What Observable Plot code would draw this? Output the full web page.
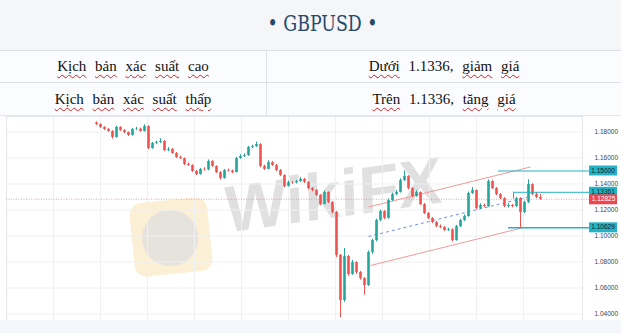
<!DOCTYPE html>
<html><head><meta charset="utf-8">
<script src="https://cdn.jsdelivr.net/npm/d3@7"></script>
<script src="https://cdn.jsdelivr.net/npm/@observablehq/plot@0.6"></script>
<style>
body{margin:0;width:621px;height:333px;overflow:hidden;background:#fff;}
#title{height:50px;background:#f5f6f8;display:flex;align-items:center;justify-content:center;color:#27496d;font-size:23px;font-family:"DejaVu Serif Condensed","DejaVu Serif","Liberation Serif",serif;padding-left:24px;box-sizing:border-box;}
#title span{display:inline-block;transform:scaleX(.84);margin-top:-4px;}
table{border-collapse:collapse;width:621px;background:#fbfcfe;}
td{padding:0;text-align:center;font-size:15px;color:#111;word-spacing:5px;border-top:1px solid #dde1e6;font-family:"Liberation Serif","Times New Roman",serif;}
tr.r1 td{height:31px;}
tr.r2 td{height:32px;}
td.c1{width:266px;border-right:1px solid #dde1e6;}
.w{text-decoration:underline wavy #d42020;text-decoration-thickness:1px;text-underline-offset:3px;}
#chart{position:relative;height:217px;border-top:1px solid #e3e6ea;}
#plot{position:absolute;left:0;top:0;}
#band{position:absolute;left:0;top:204px;width:621px;height:13px;background:#f3f6fa;}
#wm{position:absolute;left:226px;top:56px;font-family:"Liberation Sans",sans-serif;font-weight:bold;font-size:66px;color:rgba(0,0,0,0.12);transform:rotate(-8deg) skewX(-6deg);transform-origin:left bottom;white-space:nowrap;}
#logo{position:absolute;left:132px;top:84px;width:78px;height:74px;border-radius:12px;background:#fbefd6;transform:rotate(-6deg);}
#logo div{position:absolute;left:10px;top:10px;width:56px;height:56px;border-radius:50%;background:#e6e3dc;}
</style></head>
<body>
<div id="title"><span>• GBPUSD •</span></div>
<table>
<tr class="r1"><td class="c1"><span class="w">Kịch</span> <span class="w">bản</span> <span class="w">xác</span> <span class="w">suất</span> <span class="w">cao</span></td><td><span class="w">Dưới</span> 1.1336, <span class="w">giảm</span> <span class="w">giá</span></td></tr>
<tr class="r2"><td class="c1"><span class="w">Kịch</span> <span class="w">bản</span> <span class="w">xác</span> <span class="w">suất</span> <span class="w">thấp</span></td><td><span class="w">Trên</span> 1.1336, <span class="w">tăng</span> <span class="w">giá</span></td></tr>
</table>
<div id="chart">
  <div id="logo"><div></div></div>
  <div id="wm">WikiFX</div>
  <div id="plot"></div>
  <div id="band"></div>
</div>
<script>
// ---- data ----
const firstOpen = 1.1870;
const closes = [1.1858,1.1835,1.1819,1.1804,1.1758,1.1835,1.1812,1.1796,1.1773,1.1819,
1.1822,1.1804,1.1842,1.1673,1.1712,1.1719,1.1727,1.1658,1.1665,1.1635,
1.1604,1.1596,1.1550,1.1542,1.1496,1.1473,1.1512,1.1508,1.1573,1.1535,
1.1488,1.1442,1.1504,1.1500,1.1488,1.1596,1.1612,1.1619,1.1681,1.1688,
1.1704,1.1535,1.1512,1.1565,1.1542,1.1504,1.1465,1.1381,1.1412,1.1408,
1.1419,1.1435,1.1412,1.1365,1.1350,1.1312,1.1242,1.1335,1.1258,1.1181,
1.0850,1.0504,1.0842,1.0704,1.0796,1.0719,1.0673,1.0619,1.0873,1.0965,
1.1119,1.1188,1.1135,1.1273,1.1319,1.1335,1.1427,1.1458,1.1365,1.1304,
1.1335,1.1242,1.1173,1.1135,1.1104,1.1073,1.1065,1.1042,1.1048,1.0965,
1.1073,1.1119,1.1150,1.1327,1.1350,1.1212,1.1235,1.1227,1.1419,1.1365,
1.1319,1.1288,1.1227,1.1235,1.1227,1.1288,1.1181,1.1258,1.1396,1.1319,
1.1296,1.12825];
const highs = [1.1878,1.1862,1.1840,1.1826,1.1810,1.1845,1.1840,1.1818,1.1800,1.1828,
1.1835,1.1830,1.1855,1.1848,1.1720,1.1730,1.1748,1.1735,1.1680,1.1672,
1.1642,1.1615,1.1600,1.1562,1.1548,1.1505,1.1520,1.1525,1.1585,1.1580,
1.1540,1.1495,1.1512,1.1515,1.1508,1.1605,1.1625,1.1632,1.1690,1.1698,
1.1722,1.1710,1.1545,1.1578,1.1572,1.1550,1.1512,1.1470,1.1422,1.1420,
1.1428,1.1448,1.1442,1.1418,1.1372,1.1358,1.1318,1.1345,1.1340,1.1265,
1.1188,1.0858,1.0904,1.0850,1.0812,1.0802,1.0728,1.0680,1.0885,1.0975,
1.1130,1.1200,1.1195,1.1285,1.1330,1.1350,1.1440,1.1500,1.1465,1.1372,
1.1348,1.1340,1.1250,1.1180,1.1142,1.1112,1.1085,1.1072,1.1060,1.1055,
1.1082,1.1128,1.1162,1.1338,1.1372,1.1355,1.1248,1.1245,1.1432,1.1425,
1.1372,1.1325,1.1295,1.1248,1.1242,1.1298,1.1295,1.1268,1.1432,1.1402,
1.1335,1.1318];
const lows = [1.1850,1.1828,1.1812,1.1798,1.1745,1.1752,1.1805,1.1788,1.1765,1.1768,
1.1810,1.1798,1.1800,1.1665,1.1668,1.1705,1.1712,1.1650,1.1648,1.1628,
1.1596,1.1588,1.1542,1.1535,1.1488,1.1465,1.1468,1.1500,1.1502,1.1528,
1.1480,1.1432,1.1438,1.1492,1.1480,1.1485,1.1590,1.1605,1.1612,1.1672,
1.1680,1.1525,1.1505,1.1508,1.1535,1.1496,1.1458,1.1372,1.1376,1.1398,
1.1400,1.1412,1.1405,1.1356,1.1340,1.1304,1.1232,1.1238,1.1250,1.1170,
1.0835,1.0373,1.0490,1.0690,1.0698,1.0705,1.0660,1.0545,1.0612,1.0860,
1.0955,1.1110,1.1125,1.1130,1.1265,1.1310,1.1330,1.1420,1.1355,1.1295,
1.1298,1.1235,1.1165,1.1126,1.1096,1.1065,1.1056,1.1035,1.1035,1.0955,
1.0960,1.1065,1.1112,1.1145,1.1320,1.1202,1.1205,1.1218,1.1220,1.1358,
1.1310,1.1280,1.1218,1.1215,1.1218,1.1220,1.1063,1.1172,1.1250,1.1310,
1.1288,1.1275];
const yTicks = [1.04,1.06,1.08,1.10,1.12,1.14,1.16,1.18];
const timeGrid = [-10.75,1,12.75,24.5,36.25,48,59.75,71.5,83.25,95,106.75];
const currentPrice = 1.12825;
const levelPrices = [1.15, 1.13361, 1.10629];   // horizontal levels
const levelStarts = [100.5, 104.25, 103];        // bar index where each level begins
const channelEdges = [ // upper and lower lines: [i1, p1, i2, p2]
  {i1:68, p1:1.1223, i2:108.5, p2:1.1531},
  {i1:68.5, p1:1.0773, i2:106.5, p2:1.1063}
];
const channelMid = [{i1:68, p1:1.0996, i2:107.75, p2:1.1299}];

// ---- build ----
const opens = [firstOpen, ...closes.slice(0, -1)];
const candles = closes.map((c, i) => ({i, o: opens[i], c, h: highs[i], l: lows[i], up: c >= opens[i]}));
const UP = "#26a69a", DOWN = "#ef5350", TEAL = "#22b3c6";
const xMin = -22.5, xMax = 121.5;
const boxA = xMax + 1.75, boxB = xMax + 8.75, boxMid = (boxA + boxB) / 2;
const f5 = d3.format(".5f");
const levels = levelPrices.map((p, k) => ({p, start: levelStarts[k], dy: p === 1.13361 ? -2.5 : 0}));

const plot = Plot.plot({
  width: 621, height: 204,
  marginTop: 0, marginBottom: 0, marginLeft: 6, marginRight: 39,
  x: {domain: [xMin, xMax], axis: null},
  y: {domain: [1.04, 1.18], range: [197.5, 15.5], axis: null},
  style: {background: "transparent", overflow: "visible", fontFamily: "Liberation Sans, Arial, sans-serif"},
  marks: [
    Plot.gridY(yTicks, {stroke: "#eef0f4", strokeOpacity: 1}),
    Plot.ruleX(timeGrid, {stroke: "#eef0f4"}),
    Plot.frame({stroke: "#e3e6ea"}),
    Plot.ruleY([currentPrice], {x1: xMin, x2: boxA, stroke: "#f08a8a", strokeWidth: 0.8, strokeDasharray: "1,1.5"}),
    Plot.link(channelEdges, {x1: "i1", y1: "p1", x2: "i2", y2: "p2", stroke: "#f39a9a", strokeWidth: 1}),
    Plot.link(channelMid, {x1: "i1", y1: "p1", x2: "i2", y2: "p2", stroke: "#6f8fe6", strokeWidth: 1, strokeDasharray: "3,3"}),
    Plot.ruleX(candles, {x: "i", y1: "l", y2: "h", stroke: d => d.up ? UP : DOWN, strokeWidth: 1}),
    Plot.ruleX(candles, {x: "i", y1: "o", y2: "c", stroke: d => d.up ? UP : DOWN, strokeWidth: 2.6}),
    Plot.ruleY(levels, {y: "p", x1: "start", x2: boxA, stroke: TEAL, strokeWidth: d => d.p === 1.10629 ? 1.6 : 1}),
    Plot.ruleX([levelStarts[1]], {y1: currentPrice, y2: levelPrices[1], stroke: TEAL, strokeWidth: 1}),
    Plot.axisY(yTicks, {anchor: "right", tickSize: 0, tickPadding: 12, tickFormat: f5, fontSize: 6.5, fill: "#444", textAnchor: "start"}),
    Plot.ruleY(levels, {y: "p", dy: "dy", x1: boxA, x2: boxB, stroke: TEAL, strokeWidth: 10}),
    Plot.ruleY([currentPrice], {x1: boxA, x2: boxB, stroke: "#f0444f", strokeWidth: 10}),
    Plot.text(levels, {y: "p", dy: "dy", x: boxMid, text: d => f5(d.p), fill: "#1a1a1a", fontSize: 6.5}),
    Plot.text([currentPrice], {y: d => d, x: boxMid, text: d => f5(d), fill: "#fff", fontSize: 6.5})
  ]
});
document.getElementById("plot").appendChild(plot);
</script>
</body></html>
